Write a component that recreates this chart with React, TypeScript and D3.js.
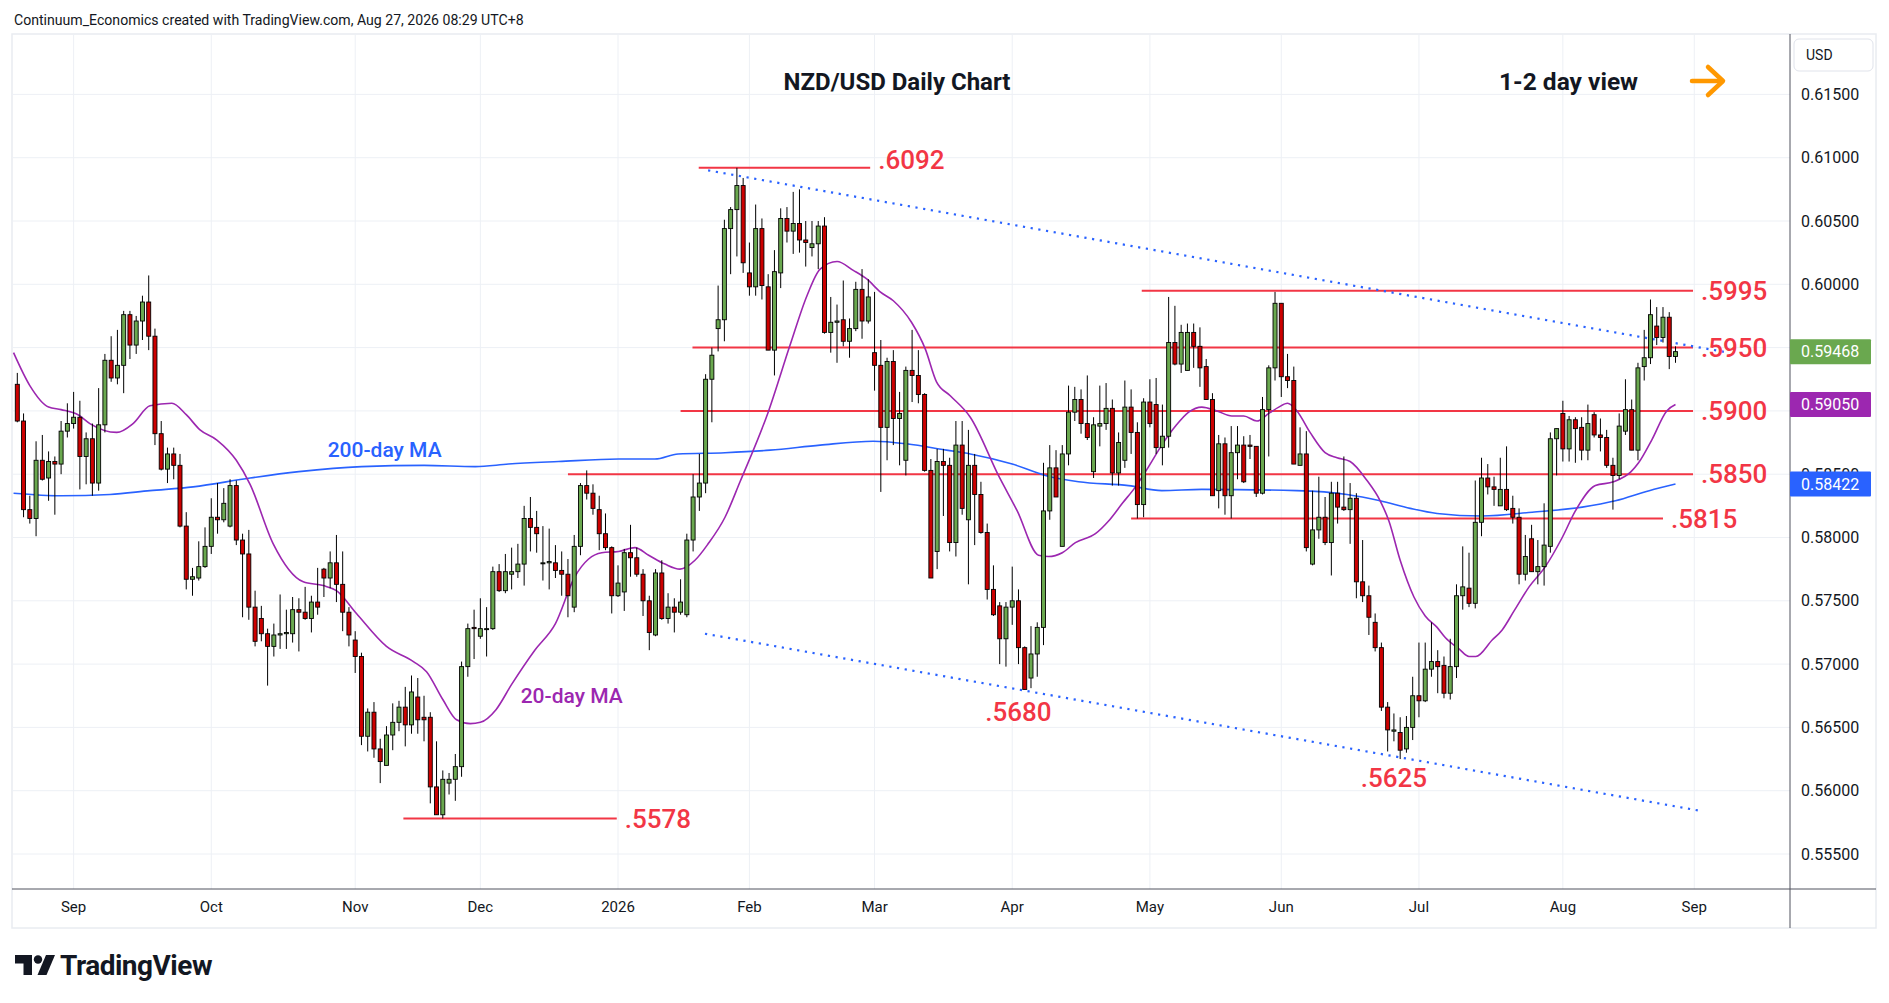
import { useEffect } from 'react';
import * as d3 from 'd3';

// first bar and the days the feed skips
const START = '2025-08-19';
const HOLIDAYS = ['2025-12-25', '2026-01-01'];

const opens = [
  0.5921, 0.5892, 0.5822, 0.5815, 0.5861, 0.5847, 0.5860, 0.5858, 0.5884, 0.5890,
  0.5895, 0.5864, 0.5878, 0.5843, 0.5889, 0.5940, 0.5926, 0.5936, 0.5976, 0.5952,
  0.5971, 0.5986, 0.5959, 0.5882, 0.5854, 0.5866, 0.5857, 0.5809, 0.5767, 0.5768,
  0.5777, 0.5793, 0.5816, 0.5814, 0.5809, 0.5841, 0.5798, 0.5787, 0.5745, 0.5736,
  0.5724, 0.5714, 0.5723, 0.5724, 0.5724, 0.5743, 0.5741, 0.5736, 0.5749, 0.5775,
  0.5768, 0.5780, 0.5763, 0.5741, 0.5719, 0.5706, 0.5643, 0.5662, 0.5633, 0.5620,
  0.5644, 0.5654, 0.5666, 0.5652, 0.5674, 0.5658, 0.5658, 0.5603, 0.5581, 0.5606,
  0.5609, 0.5619, 0.5698, 0.5729, 0.5722, 0.5728, 0.5728, 0.5773, 0.5758, 0.5771,
  0.5773, 0.5779, 0.5815, 0.5808, 0.5780, 0.5780, 0.5780, 0.5774, 0.5771, 0.5745,
  0.5793, 0.5841, 0.5835, 0.5822, 0.5803, 0.5792, 0.5754, 0.5757, 0.5788, 0.5784,
  0.5771, 0.5750, 0.5723, 0.5772, 0.5736, 0.5745, 0.5741, 0.5739, 0.5798, 0.5832,
  0.5843, 0.5925, 0.5965, 0.5972, 0.6044, 0.6059, 0.6078, 0.6009, 0.5998, 0.6044,
  0.5998, 0.5948, 0.6009, 0.6052, 0.6042, 0.6048, 0.6035, 0.6029, 0.6032, 0.6046,
  0.5962, 0.5970, 0.5972, 0.5955, 0.5965, 0.5996, 0.5971, 0.5946, 0.5936, 0.5887,
  0.5939, 0.5894, 0.5861, 0.5932, 0.5928, 0.5913, 0.5853, 0.5789, 0.5860, 0.5857,
  0.5796, 0.5873, 0.5814, 0.5857, 0.5834, 0.5804, 0.5759, 0.5746, 0.5720, 0.5745,
  0.5750, 0.5713, 0.5689, 0.5708, 0.5729, 0.5821, 0.5855, 0.5793, 0.5866, 0.5899,
  0.5909, 0.5890, 0.5852, 0.5888, 0.5890, 0.5902, 0.5851, 0.5861, 0.5903, 0.5883,
  0.5826, 0.5907, 0.5905, 0.5871, 0.5880, 0.5954, 0.5937, 0.5932, 0.5962, 0.5951,
  0.5935, 0.5909, 0.5837, 0.5874, 0.5833, 0.5867, 0.5873, 0.5873, 0.5872, 0.5835,
  0.5901, 0.5934, 0.5985, 0.5927, 0.5924, 0.5857, 0.5866, 0.5779, 0.5806, 0.5816,
  0.5796, 0.5835, 0.5824, 0.5822, 0.5831, 0.5765, 0.5754, 0.5733, 0.5713, 0.5666,
  0.5647, 0.5646, 0.5633, 0.5650, 0.5675, 0.5671, 0.5696, 0.5702, 0.5699, 0.5677,
  0.5698, 0.5754, 0.5760, 0.5748, 0.5812, 0.5847, 0.5840, 0.5825, 0.5838, 0.5823,
  0.5816, 0.5771, 0.5799, 0.5773, 0.5777, 0.5793, 0.5878, 0.5898, 0.5870, 0.5893,
  0.5887, 0.5869, 0.5897, 0.5881, 0.5879, 0.5857, 0.5849, 0.5884, 0.5901, 0.5869,
  0.5935, 0.5942, 0.5967, 0.5958, 0.5974, 0.5943,
];

const highs = [
  0.5930, 0.5898, 0.5833, 0.5876, 0.5881, 0.5868, 0.5864, 0.5892, 0.5906, 0.5915,
  0.5908, 0.5883, 0.5890, 0.5918, 0.5945, 0.5959, 0.5964, 0.5979, 0.5979, 0.5975,
  0.5991, 0.6007, 0.5965, 0.5892, 0.5871, 0.5871, 0.5866, 0.5820, 0.5776, 0.5797,
  0.5808, 0.5831, 0.5843, 0.5839, 0.5846, 0.5845, 0.5803, 0.5806, 0.5758, 0.5746,
  0.5728, 0.5732, 0.5755, 0.5743, 0.5753, 0.5752, 0.5761, 0.5754, 0.5776, 0.5776,
  0.5789, 0.5802, 0.5789, 0.5745, 0.5726, 0.5709, 0.5665, 0.5670, 0.5641, 0.5651,
  0.5669, 0.5671, 0.5682, 0.5691, 0.5689, 0.5675, 0.5662, 0.5639, 0.5616, 0.5614,
  0.5629, 0.5702, 0.5732, 0.5743, 0.5752, 0.5745, 0.5777, 0.5779, 0.5787, 0.5792,
  0.5795, 0.5825, 0.5832, 0.5821, 0.5809, 0.5807, 0.5794, 0.5789, 0.5783, 0.5802,
  0.5843, 0.5853, 0.5842, 0.5833, 0.5819, 0.5793, 0.5778, 0.5791, 0.5810, 0.5792,
  0.5775, 0.5754, 0.5775, 0.5782, 0.5756, 0.5752, 0.5767, 0.5803, 0.5850, 0.5866,
  0.5929, 0.5950, 0.5999, 0.6051, 0.6061, 0.6092, 0.6084, 0.6033, 0.6063, 0.6052,
  0.6008, 0.6027, 0.6060, 0.6061, 0.6073, 0.6075, 0.6050, 0.6050, 0.6050, 0.6053,
  0.5990, 0.5984, 0.6003, 0.5973, 0.6002, 0.6012, 0.6004, 0.5994, 0.5956, 0.5942,
  0.5948, 0.5915, 0.5935, 0.5964, 0.5948, 0.5914, 0.5862, 0.5870, 0.5870, 0.5863,
  0.5892, 0.5892, 0.5885, 0.5866, 0.5844, 0.5811, 0.5778, 0.5749, 0.5749, 0.5777,
  0.5759, 0.5714, 0.5730, 0.5733, 0.5859, 0.5873, 0.5869, 0.5873, 0.5920, 0.5919,
  0.5917, 0.5928, 0.5895, 0.5920, 0.5922, 0.5909, 0.5883, 0.5924, 0.5917, 0.5891,
  0.5910, 0.5925, 0.5926, 0.5905, 0.5990, 0.5983, 0.5968, 0.5969, 0.5969, 0.5966,
  0.5941, 0.5914, 0.5881, 0.5879, 0.5888, 0.5888, 0.5880, 0.5881, 0.5872, 0.5911,
  0.5936, 0.5994, 0.5985, 0.5945, 0.5935, 0.5887, 0.5884, 0.5837, 0.5848, 0.5832,
  0.5844, 0.5844, 0.5864, 0.5843, 0.5835, 0.5798, 0.5762, 0.5740, 0.5717, 0.5670,
  0.5661, 0.5658, 0.5659, 0.5690, 0.5717, 0.5717, 0.5733, 0.5711, 0.5706, 0.5720,
  0.5763, 0.5793, 0.5788, 0.5845, 0.5863, 0.5858, 0.5848, 0.5863, 0.5872, 0.5833,
  0.5823, 0.5802, 0.5810, 0.5798, 0.5827, 0.5883, 0.5886, 0.5908, 0.5896, 0.5895,
  0.5895, 0.5905, 0.5899, 0.5894, 0.5885, 0.5863, 0.5898, 0.5925, 0.5909, 0.5938,
  0.5964, 0.5988, 0.5982, 0.5982, 0.5978, 0.5951,
];

const lows = [
  0.5891, 0.5816, 0.5811, 0.5801, 0.5845, 0.5829, 0.5818, 0.5850, 0.5879, 0.5886,
  0.5838, 0.5842, 0.5833, 0.5837, 0.5883, 0.5923, 0.5921, 0.5914, 0.5941, 0.5945,
  0.5956, 0.5948, 0.5873, 0.5853, 0.5843, 0.5846, 0.5808, 0.5759, 0.5754, 0.5766,
  0.5776, 0.5787, 0.5803, 0.5812, 0.5808, 0.5794, 0.5737, 0.5735, 0.5714, 0.5718,
  0.5683, 0.5706, 0.5712, 0.5712, 0.5717, 0.5710, 0.5735, 0.5725, 0.5739, 0.5753,
  0.5760, 0.5749, 0.5726, 0.5714, 0.5693, 0.5636, 0.5631, 0.5626, 0.5606, 0.5620,
  0.5632, 0.5647, 0.5635, 0.5645, 0.5645, 0.5639, 0.5590, 0.5581, 0.5578, 0.5597,
  0.5592, 0.5611, 0.5690, 0.5704, 0.5720, 0.5706, 0.5727, 0.5757, 0.5756, 0.5759,
  0.5768, 0.5762, 0.5789, 0.5788, 0.5766, 0.5759, 0.5768, 0.5754, 0.5737, 0.5741,
  0.5786, 0.5830, 0.5818, 0.5790, 0.5790, 0.5740, 0.5753, 0.5742, 0.5769, 0.5769,
  0.5738, 0.5711, 0.5722, 0.5735, 0.5732, 0.5725, 0.5739, 0.5737, 0.5789, 0.5821,
  0.5835, 0.5891, 0.5947, 0.5955, 0.6008, 0.6022, 0.6009, 0.5991, 0.5991, 0.5988,
  0.5948, 0.5928, 0.5997, 0.6033, 0.6024, 0.6025, 0.6014, 0.6022, 0.6012, 0.5961,
  0.5946, 0.5938, 0.5951, 0.5942, 0.5963, 0.5957, 0.5969, 0.5916, 0.5836, 0.5861,
  0.5873, 0.5857, 0.5849, 0.5907, 0.5906, 0.5852, 0.5768, 0.5775, 0.5817, 0.5789,
  0.5785, 0.5818, 0.5763, 0.5794, 0.5803, 0.5751, 0.5738, 0.5700, 0.5698, 0.5731,
  0.5700, 0.5680, 0.5681, 0.5690, 0.5715, 0.5814, 0.5832, 0.5793, 0.5857, 0.5892,
  0.5882, 0.5877, 0.5847, 0.5872, 0.5885, 0.5841, 0.5841, 0.5855, 0.5866, 0.5815,
  0.5816, 0.5887, 0.5866, 0.5857, 0.5871, 0.5936, 0.5930, 0.5932, 0.5934, 0.5919,
  0.5909, 0.5833, 0.5823, 0.5818, 0.5815, 0.5846, 0.5843, 0.5862, 0.5832, 0.5834,
  0.5864, 0.5924, 0.5911, 0.5918, 0.5858, 0.5857, 0.5789, 0.5778, 0.5799, 0.5794,
  0.5770, 0.5811, 0.5821, 0.5795, 0.5752, 0.5749, 0.5723, 0.5710, 0.5663, 0.5631,
  0.5639, 0.5625, 0.5630, 0.5640, 0.5658, 0.5670, 0.5690, 0.5677, 0.5673, 0.5672,
  0.5689, 0.5743, 0.5745, 0.5744, 0.5801, 0.5834, 0.5825, 0.5825, 0.5821, 0.5811,
  0.5763, 0.5766, 0.5773, 0.5763, 0.5762, 0.5788, 0.5849, 0.5860, 0.5860, 0.5859,
  0.5861, 0.5861, 0.5879, 0.5868, 0.5855, 0.5822, 0.5846, 0.5881, 0.5869, 0.5861,
  0.5924, 0.5937, 0.5952, 0.5954, 0.5933, 0.5938,
];

const closes = [
  0.5892, 0.5822, 0.5815, 0.5861, 0.5846, 0.5860, 0.5858, 0.5884, 0.5890, 0.5895,
  0.5864, 0.5878, 0.5843, 0.5889, 0.5940, 0.5926, 0.5936, 0.5976, 0.5952, 0.5971,
  0.5986, 0.5959, 0.5882, 0.5854, 0.5866, 0.5857, 0.5809, 0.5767, 0.5769, 0.5777,
  0.5793, 0.5816, 0.5814, 0.5827, 0.5841, 0.5798, 0.5787, 0.5745, 0.5718, 0.5724,
  0.5714, 0.5723, 0.5724, 0.5725, 0.5743, 0.5741, 0.5736, 0.5749, 0.5745, 0.5768,
  0.5780, 0.5763, 0.5741, 0.5723, 0.5706, 0.5643, 0.5662, 0.5633, 0.5623, 0.5644,
  0.5654, 0.5666, 0.5652, 0.5678, 0.5656, 0.5656, 0.5603, 0.5581, 0.5609, 0.5609,
  0.5619, 0.5698, 0.5728, 0.5728, 0.5728, 0.5728, 0.5773, 0.5758, 0.5773, 0.5773,
  0.5779, 0.5815, 0.5808, 0.5803, 0.5780, 0.5781, 0.5774, 0.5771, 0.5754, 0.5793,
  0.5841, 0.5835, 0.5823, 0.5803, 0.5792, 0.5754, 0.5764, 0.5788, 0.5784, 0.5771,
  0.5750, 0.5725, 0.5772, 0.5736, 0.5745, 0.5741, 0.5749, 0.5798, 0.5832, 0.5843,
  0.5925, 0.5944, 0.5972, 0.6044, 0.6059, 0.6078, 0.6017, 0.5998, 0.6044, 0.5999,
  0.5948, 0.6010, 0.6052, 0.6042, 0.6048, 0.6035, 0.6033, 0.6032, 0.6046, 0.5962,
  0.5970, 0.5971, 0.5955, 0.5965, 0.5996, 0.5971, 0.5990, 0.5936, 0.5887, 0.5939,
  0.5894, 0.5898, 0.5932, 0.5928, 0.5913, 0.5853, 0.5768, 0.5860, 0.5857, 0.5796,
  0.5873, 0.5823, 0.5857, 0.5834, 0.5804, 0.5759, 0.5739, 0.5720, 0.5745, 0.5750,
  0.5713, 0.5680, 0.5708, 0.5729, 0.5821, 0.5855, 0.5832, 0.5866, 0.5899, 0.5909,
  0.5890, 0.5879, 0.5889, 0.5890, 0.5902, 0.5851, 0.5875, 0.5903, 0.5883, 0.5826,
  0.5907, 0.5890, 0.5871, 0.5880, 0.5954, 0.5937, 0.5962, 0.5962, 0.5951, 0.5934,
  0.5909, 0.5833, 0.5874, 0.5833, 0.5867, 0.5873, 0.5844, 0.5872, 0.5835, 0.5901,
  0.5934, 0.5985, 0.5927, 0.5924, 0.5858, 0.5866, 0.5792, 0.5806, 0.5816, 0.5796,
  0.5835, 0.5824, 0.5822, 0.5831, 0.5765, 0.5754, 0.5737, 0.5713, 0.5666, 0.5648,
  0.5648, 0.5632, 0.5650, 0.5675, 0.5671, 0.5696, 0.5702, 0.5698, 0.5677, 0.5698,
  0.5754, 0.5761, 0.5748, 0.5812, 0.5847, 0.5840, 0.5838, 0.5838, 0.5822, 0.5816,
  0.5771, 0.5785, 0.5773, 0.5777, 0.5794, 0.5878, 0.5886, 0.5870, 0.5893, 0.5886,
  0.5869, 0.5890, 0.5881, 0.5879, 0.5857, 0.5849, 0.5888, 0.5901, 0.5869, 0.5934,
  0.5942, 0.5976, 0.5958, 0.5974, 0.5943, 0.59468,
];

// moving averages: bar index / value
const ma20Idx = [
  -0.6, 2, 5, 7, 9.7, 11.6, 15.9, 18.5, 21.2, 24.7, 27, 29.2, 31.9, 35, 37.2, 40.9, 45.7, 48.9, 51,
  54.2, 59, 63.3, 65.4, 68, 70.2, 72.4, 74, 76.5, 79, 82.7, 86, 89.1, 91.3, 93.4, 96.1, 98.7, 100.9,
  103.5, 105.9, 108.3, 110.4, 113.1, 115.5, 120, 123.5, 126.2, 128.3, 131, 133.6, 135.8, 137.9, 140,
  142.9, 145.1, 146.9, 149.1, 152.3, 156.9, 159.8, 163.2, 164.8, 167, 169.1, 172.3, 174.4, 176.6,
  178.7, 180.8, 182.9, 185.1, 187.2, 189.3, 191.7, 194.1, 196, 198.1, 200, 201.6, 203, 204.5, 206.6,
  209, 210.9, 213, 215.7, 217.8, 219.2, 221, 223.2, 225, 226.9, 228.2, 230.4, 232, 233.1, 235.7,
  237.3, 239.2, 241.6, 244.2, 246.9, 249, 252.2, 255.1, 257.9, 259.1, 261.2, 263.6, 265,
];
const ma20Val = [
  0.5946, 0.5920, 0.5903, 0.5901, 0.5897, 0.5890, 0.5883, 0.5890, 0.5904, 0.5906, 0.5897, 0.5885,
  0.5877, 0.5861, 0.5842, 0.5795, 0.5765, 0.5762, 0.5758, 0.5740, 0.5714, 0.5702, 0.5694, 0.5672,
  0.5656, 0.5653, 0.5654, 0.5664, 0.5684, 0.5711, 0.5732, 0.5769, 0.5783, 0.5788, 0.5789, 0.5792,
  0.5786, 0.5779, 0.5775, 0.5782, 0.5795, 0.5816, 0.5844, 0.5899, 0.5952, 0.5991, 0.6012, 0.6018,
  0.6011, 0.6004, 0.5994, 0.5987, 0.5970, 0.5949, 0.5923, 0.5912, 0.5895, 0.5848, 0.5821, 0.5786,
  0.5785, 0.5788, 0.5796, 0.5803, 0.5813, 0.5827, 0.5840, 0.5856, 0.5873, 0.5888, 0.5899, 0.5903,
  0.5900, 0.5896, 0.5896, 0.5892, 0.5898, 0.5903, 0.5906, 0.5900, 0.5883, 0.5867, 0.5863, 0.5860,
  0.5845, 0.5829, 0.5813, 0.5782, 0.5753, 0.5738, 0.5729, 0.5721, 0.5712, 0.5706, 0.5706, 0.5719,
  0.5727, 0.5742, 0.5761, 0.5777, 0.5800, 0.5821, 0.5841, 0.5844, 0.5852, 0.5859, 0.5877, 0.5900,
  0.5905,
];
const ma200Idx = [
  -0.6, 7, 14.8, 21.2, 28.1, 37.2, 45, 55, 65, 73.2, 78.5, 86.5, 96.1, 101.9, 105.6, 113.1, 120.3,
  128.3, 136.8, 142.1, 148.5, 152.3, 159, 164.3, 169.6, 177.6, 182.9, 189.3, 204.5, 212.5, 217.8,
  222.6, 226.9, 234.1, 242.1, 250.1, 255.4, 260.8, 265,
];
const ma200Val = [
  0.5835, 0.5833, 0.5834, 0.5837, 0.5840, 0.5847, 0.5852, 0.5856, 0.5857, 0.5856, 0.5858, 0.5860,
  0.5862, 0.5862, 0.5866, 0.5867, 0.5869, 0.5873, 0.5876, 0.5874, 0.5869, 0.5866, 0.5858, 0.5849,
  0.5844, 0.5841, 0.5837, 0.5838, 0.5837, 0.5834, 0.5829, 0.5823, 0.5819, 0.5817, 0.5820, 0.5824,
  0.5829, 0.5837, 0.58422,
];

const priceTicks = [0.555, 0.56, 0.565, 0.57, 0.575, 0.58, 0.585, 0.59, 0.595, 0.6, 0.605, 0.61, 0.615];

// horizontal levels: value, first and last bar index
const levelValues = [0.6092, 0.5995, 0.595, 0.59, 0.585, 0.5815, 0.5578];
const levelFrom = [108.9, 179.7, 107.9, 106, 88, 178, 61.7];
const levelTo = [136.3, 267.8, 267.8, 267.8, 267.8, 263, 95.8];

// channel lines (dotted): [index, price] pairs
const channelUpper = [[110.4, 0.609], [273.5, 0.5946]];
const channelLower = [[109.9, 0.5724], [269.1, 0.5584]];

// swing-low notes and MA tags
const lowNotes = [{ text: '.5680', i: 160, v: 0.5662 }, { text: '.5625', i: 220, v: 0.561 }];
const maNotes = [
  { text: '200-day MA', i: 58.7, v: 0.5869, color: '#2962ff' },
  { text: '20-day MA', i: 88.6, v: 0.5675, color: '#9c27b0' },
];

const W = 1889;
const H = 1003;
const FONT = 'Roboto, "Noto Sans", "DejaVu Sans", sans-serif';
const UP = '#6aa84f';
const DOWN = '#cc0000';
const LEVEL = '#f23645';

export default function App() {
  useEffect(() => {
    document.body.style.margin = '0';
  }, []);

  const left = 12, right = 1790, top = 34, bottom = 889;

  const x = d3.scaleLinear().domain([0, 265]).range([17.3, 1675.5]);
  const y = d3.scaleLinear().domain([0.555, 0.615]).range([854, 94.4]);

  // trading days
  const dates: Date[] = [];
  let d = new Date(START + 'T00:00:00Z');
  while (dates.length < 290) {
    const iso = d.toISOString().slice(0, 10);
    const wd = d.getUTCDay();
    if (wd !== 0 && wd !== 6 && !HOLIDAYS.includes(iso)) dates.push(d);
    d = d3.utcDay.offset(d, 1);
  }
  const monthTicks: { i: number; label: string }[] = [];
  dates.forEach((dt, i) => {
    if (i === 0) return;
    if (dt.getUTCMonth() !== dates[i - 1].getUTCMonth() && x(i) < right) {
      monthTicks.push({
        i,
        label: dt.getUTCMonth() === 0 ? d3.utcFormat('%Y')(dt) : d3.utcFormat('%b')(dt),
      });
    }
  });

  const line = d3
    .line<[number, number]>()
    .x((p) => x(p[0]))
    .y((p) => y(p[1]))
    .curve(d3.curveMonotoneX);
  const ma20 = ma20Idx.map((v, k) => [v, ma20Val[k]] as [number, number]);
  const ma200 = ma200Idx.map((v, k) => [v, ma200Val[k]] as [number, number]);

  const fmt5 = d3.format('.5f');
  const lastClose = closes[closes.length - 1];
  const tags = [
    { v: ma200Val[ma200Val.length - 1], color: '#2962ff' },
    { v: ma20Val[ma20Val.length - 1], color: '#9c27b0' },
    { v: lastClose, color: UP },
  ];
  // axis labels that sit fully under a tag are not drawn (as on the platform)
  const axisTicks = priceTicks.filter((t) => tags.every((g) => Math.abs(y(t) - y(g.v)) > 9));

  return (
    <svg width={W} height={H} style={{ display: 'block', background: '#fff' }} fontFamily={FONT}>
      <defs>
        <clipPath id="plot">
          <rect x={left} y={top} width={right - left} height={bottom - top} />
        </clipPath>
      </defs>

      <text x={14} y={25} fontSize={14.1} fill="#131722">
        Continuum_Economics created with TradingView.com, Aug 27, 2026 08:29 UTC+8
      </text>

      {/* outer frame */}
      <rect x={left} y={top} width={1876 - left} height={928 - top} fill="none" stroke="#e9ecf1" strokeWidth={1.5} />

      {/* grid */}
      <g stroke="#edf0f5" strokeWidth={1}>
        {priceTicks.map((t) => (
          <line key={t} x1={left} x2={right} y1={y(t)} y2={y(t)} />
        ))}
        {monthTicks.map((t) => (
          <line key={t.i} x1={x(t.i)} x2={x(t.i)} y1={top} y2={bottom} />
        ))}
      </g>

      <g clipPath="url(#plot)">
        {/* levels */}
        {levelValues.map((v, k) => (
          <line key={v} x1={x(levelFrom[k])} x2={x(levelTo[k])} y1={y(v)} y2={y(v)} stroke={LEVEL} strokeWidth={2} />
        ))}

        {/* channel */}
        {[channelUpper, channelLower].map((c, k) => (
          <line
            key={k}
            x1={x(c[0][0])}
            y1={y(c[0][1])}
            x2={x(c[1][0])}
            y2={y(c[1][1])}
            stroke="#2962ff"
            strokeWidth={2.2}
            strokeDasharray="2.2 5.6"
          />
        ))}

        <path d={line(ma200) || ''} fill="none" stroke="#2962ff" strokeWidth={1.6} />
        <path d={line(ma20) || ''} fill="none" stroke="#9c27b0" strokeWidth={1.6} />

        {/* candles */}
        {closes.map((c, i) => {
          const o = opens[i];
          const cx = x(i);
          const yt = y(Math.max(o, c));
          const yb = y(Math.min(o, c));
          return (
            <g key={i}>
              <line x1={cx} x2={cx} y1={y(highs[i])} y2={y(lows[i])} stroke="#000" strokeWidth={1} />
              <rect
                x={cx - 2}
                y={yt}
                width={4}
                height={Math.max(1, yb - yt)}
                fill={c >= o ? UP : DOWN}
                stroke="#000"
                strokeWidth={0.9}
              />
            </g>
          );
        })}
      </g>

      {/* level labels */}
      {levelValues.map((v, k) => (
        <text
          key={v}
          x={x(levelTo[k]) + 8}
          y={k === 0 ? y(v) + 1 : y(v)}
          dominantBaseline={k === 0 ? 'auto' : 'central'}
          fontSize={26}
          fontWeight={500}
          fill={LEVEL}
        >
          {d3.format('.4f')(v).slice(1)}
        </text>
      ))}
      {lowNotes.map((n) => (
        <text key={n.text} x={x(n.i)} y={y(n.v)} textAnchor="middle" dominantBaseline="central" fontSize={26} fontWeight={500} fill={LEVEL}>
          {n.text}
        </text>
      ))}
      {maNotes.map((n) => (
        <text key={n.text} x={x(n.i)} y={y(n.v)} textAnchor="middle" dominantBaseline="central" fontSize={21} fontWeight={500} fill={n.color}>
          {n.text}
        </text>
      ))}

      {/* titles */}
      <text x={897} y={90} textAnchor="middle" fontSize={24} fontWeight={700} fill="#131722">
        NZD/USD Daily Chart
      </text>
      <text x={1499} y={90} fontSize={24.5} fontWeight={700} fill="#131722">
        1-2 day view
      </text>
      <g stroke="#ff9800" strokeWidth={4.5} strokeLinecap="round" strokeLinejoin="round" fill="none">
        <line x1={1692} y1={81} x2={1722} y2={81} />
        <polyline points="1708,67 1723,81 1708,95" />
      </g>

      {/* price axis */}
      <line x1={right} x2={right} y1={top} y2={928} stroke="#50535e" strokeWidth={1} />
      <line x1={left} x2={1876} y1={bottom} y2={bottom} stroke="#50535e" strokeWidth={1} />
      <rect x={1794} y={39} width={79} height={32} rx={5} fill="#fff" stroke="#e0e3eb" />
      <text x={1806} y={55} dominantBaseline="central" fontSize={14} fill="#131722">
        USD
      </text>
      {axisTicks.map((t) => (
        <text key={t} x={1801} y={y(t)} dominantBaseline="central" fontSize={16} fill="#131722">
          {fmt5(t)}
        </text>
      ))}
      {tags.map((t) => (
        <g key={t.color}>
          <rect x={right} y={y(t.v) - 12.5} width={81} height={25} fill={t.color} rx={1} />
          <text x={1801} y={y(t.v)} dominantBaseline="central" fontSize={16} fill="#fff">
            {fmt5(t.v)}
          </text>
        </g>
      ))}

      {/* time axis */}
      {monthTicks.map((t) => (
        <text key={t.i} x={x(t.i)} y={907} textAnchor="middle" dominantBaseline="central" fontSize={15} fill="#131722">
          {t.label}
        </text>
      ))}

      {/* TradingView logo */}
      <g fill="#131722">
        <path d="M15 955 h17 v20 h-8.5 v-11.5 h-8.5 z" />
        <circle cx={38} cy={959.5} r={4.2} />
        <path d="M46 955 h9 l-8.5 20 h-9 z" />
      </g>
      <text x={60} y={975} fontSize={28} fontWeight={700} fill="#131722" letterSpacing={-0.5}>
        TradingView
      </text>
    </svg>
  );
}
